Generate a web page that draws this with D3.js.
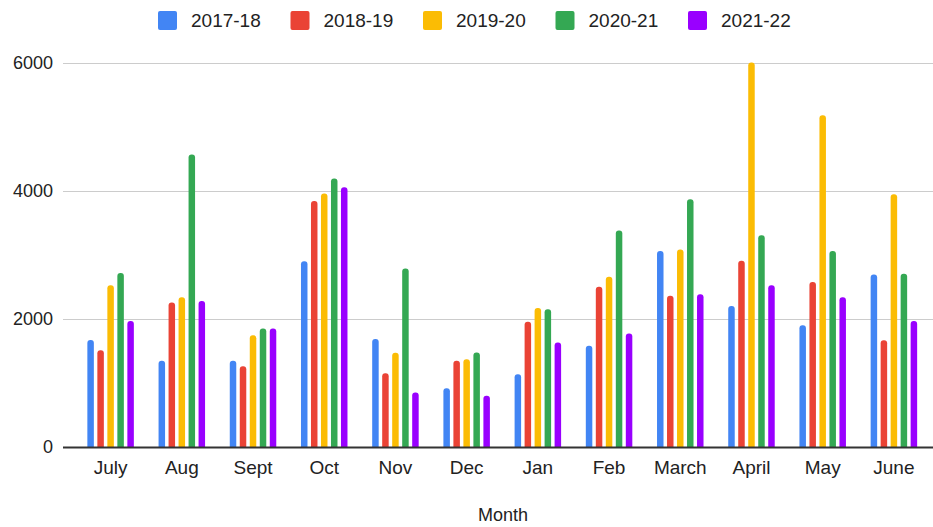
<!DOCTYPE html>
<html>
<head>
<meta charset="utf-8">
<script src="https://cdn.jsdelivr.net/npm/d3@7"></script>
<style>
  html, body { margin: 0; padding: 0; background: #fff; }
  svg { display: block; font-family: "Liberation Sans", Arial, sans-serif; }
</style>
</head>
<body>
<svg id="chart" width="933" height="527"></svg>
<script>
const months = ["July","Aug","Sept","Oct","Nov","Dec","Jan","Feb","March","April","May","June"];
const seriesNames = ["2017-18","2018-19","2019-20","2020-21","2021-22"];
const seriesColors = ["#4285F4","#EA4335","#FBBC04","#34A853","#9900FF"];
const yTicks = [0, 2000, 4000, 6000];

const s2017_18 = [1670, 1345, 1345, 2900, 1685,  915, 1135, 1580, 3060, 2200, 1900, 2690];
const s2018_19 = [1510, 2255, 1260, 3840, 1150, 1345, 1955, 2500, 2360, 2905, 2575, 1665];
const s2019_20 = [2525, 2335, 1745, 3955, 1470, 1370, 2170, 2655, 3080, 6000, 5175, 3945];
const s2020_21 = [2715, 4565, 1850, 4190, 2785, 1475, 2150, 3380, 3865, 3305, 3060, 2705];
const s2021_22 = [1965, 2280, 1850, 4055,  850,  800, 1630, 1770, 2385, 2525, 2335, 1965];
const seriesValues = [s2017_18, s2018_19, s2019_20, s2020_21, s2021_22];

const svg = d3.select("#chart");
const plotLeft = 63, plotRight = 933;
const x0 = d3.scaleBand().domain(months).range([75, 929.5]).padding(0);
const x1 = d3.scaleBand().domain(seriesNames).range([-25, 25]).padding(0);
const y = d3.scaleLinear().domain([0, 6000]).range([447, 62.5]);

// gridlines
svg.append("g").selectAll("line").data(yTicks.filter(d => d > 0)).join("line")
  .attr("x1", plotLeft).attr("x2", plotRight)
  .attr("y1", d => Math.round(y(d)) + 0.5).attr("y2", d => Math.round(y(d)) + 0.5)
  .attr("stroke", "#cccccc").attr("stroke-width", 1);

// y tick labels
svg.append("g").selectAll("text").data(yTicks).join("text")
  .attr("x", 53).attr("y", d => y(d)).attr("dy", "0.35em")
  .attr("text-anchor", "end").attr("font-size", 18).attr("fill", "#222")
  .text(d => d);

// bars
const barW = 6.5, r = 3;
function barPath(cx, v) {
  const x = cx - barW / 2, top = y(v), bottom = y(0);
  return `M${x},${bottom} L${x},${top + r} Q${x},${top} ${x + r},${top} L${x + barW - r},${top} Q${x + barW},${top} ${x + barW},${top + r} L${x + barW},${bottom} Z`;
}
const groups = svg.append("g").selectAll("g").data(months).join("g")
  .attr("transform", d => `translate(${x0(d) + x0.bandwidth() / 2},0)`);
groups.selectAll("path").data((m, i) => seriesNames.map((s, j) => ({s, j, v: seriesValues[j][i]}))).join("path")
  .attr("d", d => barPath(x1(d.s) + x1.bandwidth() / 2, d.v))
  .attr("fill", d => seriesColors[d.j]);

// baseline
svg.append("line").attr("x1", plotLeft).attr("x2", plotRight)
  .attr("y1", y(0) + 0.5).attr("y2", y(0) + 0.5)
  .attr("stroke", "#333").attr("stroke-width", 2);

// x axis labels
const xAxis = d3.axisBottom(x0).tickSize(0).tickPadding(12);
const xg = svg.append("g").attr("transform", `translate(0,${y(0) + 2})`).call(xAxis);
xg.select(".domain").remove();
xg.selectAll("text").attr("font-size", 19).attr("fill", "#222")
  .attr("font-family", "Liberation Sans, Arial, sans-serif");

// x axis title
svg.append("text").attr("x", 503).attr("y", 521).attr("text-anchor", "middle")
  .attr("font-size", 18).attr("fill", "#222").text("Month");

// legend
const legendX = [158, 290.5, 423, 555.5, 688];
const lg = svg.append("g").selectAll("g").data(seriesNames).join("g")
  .attr("transform", (d, i) => `translate(${legendX[i]},11)`);
lg.append("rect").attr("width", 19).attr("height", 19).attr("rx", 2)
  .attr("fill", (d, i) => seriesColors[i]);
lg.append("text").attr("x", 33).attr("y", 9.5).attr("dy", "0.35em")
  .attr("font-size", 19).attr("fill", "#222").text(d => d);
</script>
</body>
</html>
